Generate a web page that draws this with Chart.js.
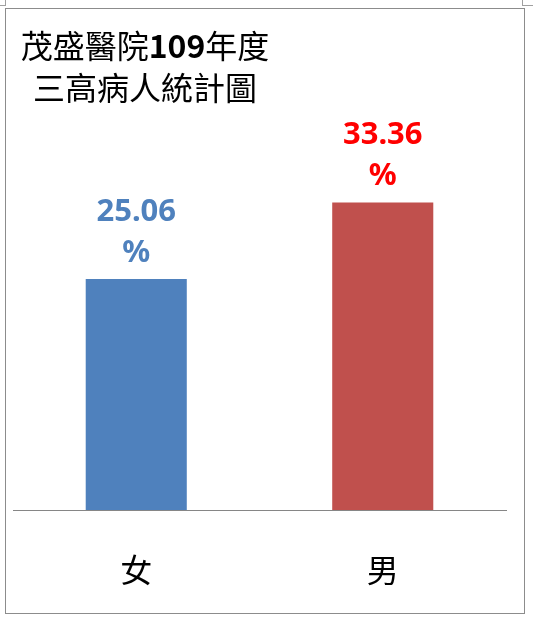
<!DOCTYPE html>
<html>
<head>
<meta charset="utf-8">
<script src="https://cdn.jsdelivr.net/npm/chart.js@4"></script>
<style>
  html, body { margin: 0; padding: 0; background: #fff; }
  #wrap { position: relative; width: 533px; height: 621px; }
  #frame { position: absolute; left: 5px; top: 8px; width: 518px; height: 604px; border: 1px solid #8c8c8c; }
  .mark { position: absolute; background: #a0a0a0; }
  canvas { position: absolute; left: 0; top: 0; }
</style>
</head>
<body>
<div id="wrap">
  <div id="frame"></div>
  <div class="mark" style="left:5px;top:0;width:1px;height:6px"></div>
  <div class="mark" style="left:0;top:5px;width:6px;height:1px"></div>
  <div class="mark" style="left:522px;top:0;width:1px;height:6px"></div>
  <div class="mark" style="left:522px;top:5px;width:11px;height:1px"></div>
  <canvas id="chart" width="533" height="621"></canvas>
</div>
<script>
// chart data
const categories = ['女', '男'];
const percentValues = [25.06, 33.36];
const barColors = ['#4F81BD', '#C0504D'];
const labelColors = ['#4F81BD', '#FF0000'];
const titleLines = [
  [['茂盛醫院', false], ['109', true], ['年度', false]],
  [['三高病人統計圖', false]]
];

// title drawn by hand so "109" can be bold
const titlePlugin = {
  id: 'cjkTitle',
  afterDraw(chart) {
    const ctx = chart.ctx;
    ctx.save();
    ctx.fillStyle = '#000';
    ctx.textBaseline = 'middle';
    ctx.textAlign = 'left';
    titleLines.forEach((parts, i) => {
      let total = 0;
      parts.forEach(p => {
        ctx.font = (p[1] ? 'bold ' : '') + '32px "Noto Sans CJK TC"';
        total += ctx.measureText(p[0]).width;
      });
      let x = 145 - total / 2;
      const y = 46 + i * 42;
      parts.forEach(p => {
        ctx.font = (p[1] ? 'bold ' : '') + '32px "Noto Sans CJK TC"';
        ctx.fillText(p[0], x, y);
        x += ctx.measureText(p[0]).width;
      });
    });
    ctx.restore();
  }
};

// value labels above the bars, two lines: number and %
const valueLabels = {
  id: 'valueLabels',
  afterDatasetsDraw(chart) {
    const ctx = chart.ctx;
    const meta = chart.getDatasetMeta(0);
    ctx.save();
    ctx.textAlign = 'center';
    ctx.textBaseline = 'middle';
    ctx.font = 'bold 31px "Noto Sans"';
    meta.data.forEach((bar, i) => {
      ctx.fillStyle = labelColors[i];
      ctx.fillText(percentValues[i].toFixed(2), bar.x, bar.y - 67);
      ctx.fillText('%', bar.x, bar.y - 26);
    });
    ctx.restore();
  }
};

new Chart(document.getElementById('chart'), {
  type: 'bar',
  data: {
    labels: categories,
    datasets: [{
      data: percentValues,
      backgroundColor: barColors,
      borderWidth: 0,
      categoryPercentage: 1,
      barPercentage: 0.41
    }]
  },
  options: {
    responsive: false,
    animation: false,
    layout: { padding: { top: 132, left: 13, right: 27, bottom: 31 } },
    plugins: {
      legend: { display: false },
      title: { display: false },
      tooltip: { enabled: false }
    },
    scales: {
      x: {
        grid: { display: false, drawTicks: false },
        border: { display: true, color: '#868686', width: 1 },
        ticks: {
          padding: 41,
          color: '#000',
          font: { family: '"Noto Sans CJK TC"', size: 32, lineHeight: 1.2 }
        },
        afterFit(scale) { scale.height = 80; }
      },
      y: {
        display: false,
        min: 0,
        max: 41
      }
    }
  },
  plugins: [titlePlugin, valueLabels]
});
</script>
</body>
</html>
